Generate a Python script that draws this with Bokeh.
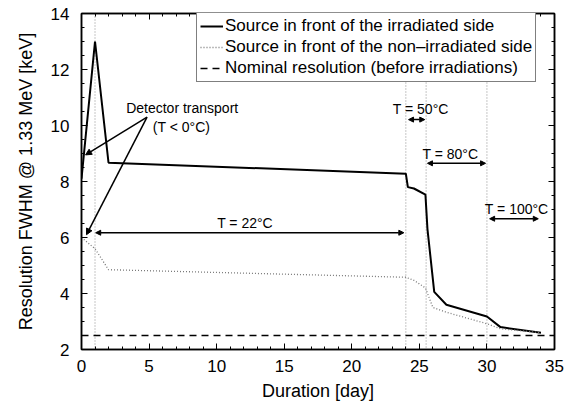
from bokeh.plotting import figure
from bokeh.models import (Range1d, LinearAxis, Span, Arrow, NormalHead, Legend,
                          LegendItem, SingleIntervalTicker, ColumnDataSource,
                          CustomJSTickFormatter)
from bokeh.core.properties import value
from bokeh.embed import file_html
from bokeh.resources import INLINE

FONT = "Liberation Sans"

# ---- data ----
days_irr = [0, 1, 2, 24, 24.15, 24.6, 25.45, 25.6, 26.1, 27, 30, 31, 34]
fwhm_irr = [8.1, 13.0, 8.67, 8.28, 7.8, 7.75, 7.53, 6.3, 4.06, 3.6, 3.18, 2.8, 2.6]

days_non = [0, 1, 2, 24, 24.6, 25.45, 26, 27, 30, 31, 34]
fwhm_non = [6.0, 5.6, 4.85, 4.58, 4.47, 4.2, 3.5, 3.33, 2.92, 2.74, 2.6]

nominal = 2.5
phase_bounds = [1, 24, 25.5, 30]

temp_labels = ["T = 22°C", "T = 50°C", "T = 80°C", "T = 100°C"]
temp_start = [1.05, 24.2, 25.6, 30.2]
temp_end = [23.85, 25.4, 29.9, 33.8]
temp_arrow_y = [6.17, 10.21, 8.65, 6.67]
temp_text_x = [12.1, 25.1, 27.3, 32.2]
temp_text_y = [6.52, 10.6, 8.98, 7.02]

transport_text = ["Detector transport", "(T < 0°C)"]
transport_text_x = [7.45, 7.4]
transport_text_y = [10.62, 9.94]
transport_from_x = [4.85, 4.85]
transport_from_y = [10.3, 10.3]
transport_to_x = [0.3, 0.37]
transport_to_y = [8.95, 6.1]

x_label = "Duration [day]"
y_label = "Resolution FWHM @ 1.33 MeV [keV]"

# ---- figure ----
p = figure(width=571, height=408, x_range=Range1d(0, 35), y_range=Range1d(2, 14),
           output_backend="svg", toolbar_location=None,
           min_border_left=81, min_border_right=17, min_border_top=13, min_border_bottom=59,
           x_axis_type=None, y_axis_type=None)
p.background_fill_color = "white"
p.border_fill_color = "white"
p.outline_line_color = "black"
p.outline_line_width = 1.5
p.xgrid.visible = False
p.ygrid.visible = False


def style_axis(ax, labels=True):
    ax.axis_line_width = 1.5
    ax.axis_line_color = "black"
    ax.major_tick_in = 6
    ax.major_tick_out = 0
    ax.minor_tick_in = 3
    ax.minor_tick_out = 0
    ax.major_tick_line_color = "black"
    ax.minor_tick_line_color = "black"
    ax.major_tick_line_width = 1
    ax.minor_tick_line_width = 1
    ax.major_label_text_font = FONT
    ax.axis_label_text_font = FONT
    ax.axis_label_text_font_style = "normal"
    ax.axis_label_text_color = "black"
    ax.major_label_text_color = "black"
    if labels:
        ax.major_label_text_font_size = "17px"
        ax.axis_label_text_font_size = "18px"
    else:
        ax.formatter = CustomJSTickFormatter(code="return ''")
        ax.major_label_standoff = 0


xb = LinearAxis(ticker=SingleIntervalTicker(interval=5, num_minor_ticks=5), axis_label=x_label)
style_axis(xb)
xb.major_label_standoff = 10
xb.axis_label_standoff = 6
p.add_layout(xb, "below")

yl = LinearAxis(ticker=SingleIntervalTicker(interval=2, num_minor_ticks=4), axis_label=y_label)
style_axis(yl)
yl.major_label_standoff = 12
yl.axis_label_standoff = 12
p.add_layout(yl, "left")

xt = LinearAxis(ticker=SingleIntervalTicker(interval=5, num_minor_ticks=5))
style_axis(xt, labels=False)
p.add_layout(xt, "above")

yr = LinearAxis(ticker=SingleIntervalTicker(interval=2, num_minor_ticks=4))
style_axis(yr, labels=False)
p.add_layout(yr, "right")

# vertical phase lines
for b in phase_bounds:
    p.add_layout(Span(location=b, dimension="height", line_color="#8c8c8c",
                      line_dash="1 2", line_width=1, level="underlay"))

# series
r_irr = p.line(days_irr, fwhm_irr, line_color="black", line_width=2)
r_non = p.line(days_non, fwhm_non, line_color="#7a7a7a", line_width=1.3, line_dash="1 2")
r_nom = p.line([0, 35], [nominal, nominal], line_color="black", line_width=1.5, line_dash="7 5")

# temperature arrows
temp_src = ColumnDataSource(dict(xs=temp_start, xe=temp_end, y=temp_arrow_y))
p.add_layout(Arrow(x_start="xs", y_start="y", x_end="xe", y_end="y", source=temp_src,
                   line_color="black", line_width=1.5,
                   start=NormalHead(size=5, fill_color="black", line_color="black", line_width=1),
                   end=NormalHead(size=5, fill_color="black", line_color="black", line_width=1)))
p.text(x=temp_text_x, y=temp_text_y, text=temp_labels, text_font=value(FONT),
       text_font_size=value("14px"), text_align="center", text_baseline="middle",
       text_color="black")

# transport arrows
tr_src = ColumnDataSource(dict(xs=transport_from_x, ys=transport_from_y,
                               xe=transport_to_x, ye=transport_to_y))
p.add_layout(Arrow(x_start="xs", y_start="ys", x_end="xe", y_end="ye", source=tr_src,
                   line_color="black", line_width=1.5,
                   end=NormalHead(size=6, fill_color="black", line_color="black", line_width=1)))
p.text(x=transport_text_x, y=transport_text_y, text=transport_text, text_font=value(FONT),
       text_font_size=value("14px"), text_align="center", text_baseline="middle",
       text_color="black")

legend = Legend(items=[
    LegendItem(label="Source in front of the irradiated side", renderers=[r_irr]),
    LegendItem(label="Source in front of the non–irradiated side", renderers=[r_non]),
    LegendItem(label="Nominal resolution (before irradiations)", renderers=[r_nom]),
], location=(115, 267))
legend.margin = 0
legend.padding = 3
legend.spacing = 1
legend.label_standoff = 2
legend.glyph_width = 23
legend.glyph_height = 20
legend.label_height = 20
legend.label_text_font = FONT
legend.label_text_font_size = "17px"
legend.label_text_color = "black"
legend.border_line_color = "black"
legend.border_line_width = 1.5
legend.background_fill_color = "white"
legend.background_fill_alpha = 1
p.add_layout(legend)

open("out.html", "w").write(file_html(p, INLINE))
